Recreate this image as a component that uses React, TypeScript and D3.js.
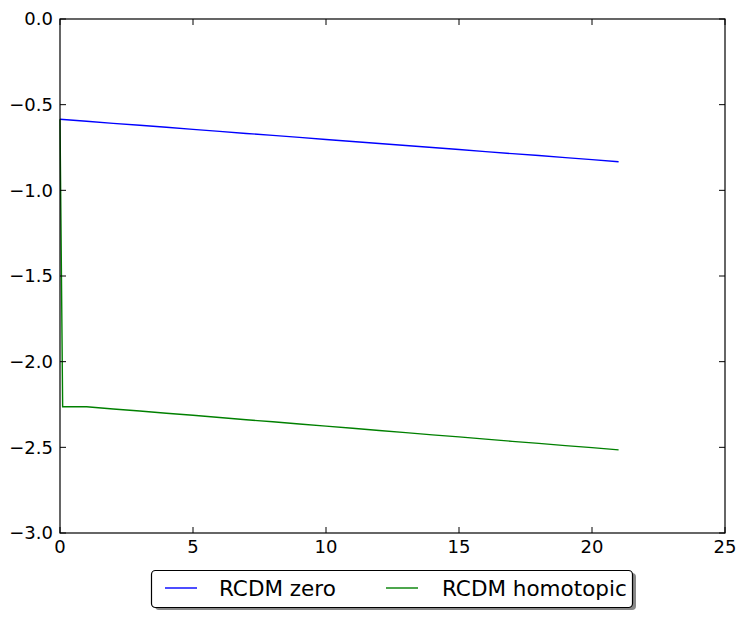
import React from "react";
import * as d3 from "d3";

const xZero = [0, 1, 2, 3, 4, 5, 6, 7, 8, 9, 10, 11, 12, 13, 14, 15, 16, 17, 18, 19, 20, 21];
const yZero = [-0.585, -0.597, -0.609, -0.62, -0.632, -0.644, -0.656, -0.668, -0.679, -0.691, -0.703, -0.715, -0.727, -0.738, -0.75, -0.762, -0.774, -0.786, -0.797, -0.809, -0.821, -0.833];
const xHomo = [0, 0.1, 1, 2, 3, 4, 5, 6, 7, 8, 9, 10, 11, 12, 13, 14, 15, 16, 17, 18, 19, 20, 21];
const yHomo = [-0.585, -2.263, -2.263, -2.276, -2.288, -2.301, -2.313, -2.326, -2.339, -2.351, -2.364, -2.376, -2.389, -2.402, -2.414, -2.427, -2.439, -2.452, -2.465, -2.477, -2.49, -2.502, -2.515];
const xTicks = [0, 5, 10, 15, 20, 25];
const yTicks = [0, -0.5, -1, -1.5, -2, -2.5, -3];
const seriesNames = ["RCDM zero", "RCDM homotopic"];
const seriesColors = ["#0000ff", "#008000"];

const W = 747, H = 618;
const L = 60, R = 725, T = 19, B = 533;

export default function App() {
  const x = d3.scaleLinear().domain([0, 25]).range([L, R]);
  const y = d3.scaleLinear().domain([-3, 0]).range([B, T]);
  const line = d3.line<[number, number]>().x(d => x(d[0])).y(d => y(d[1]));
  const s1 = xZero.map((v, i) => [v, yZero[i]] as [number, number]);
  const s2 = xHomo.map((v, i) => [v, yHomo[i]] as [number, number]);
  const fmtY = (v: number) => (v < 0 ? "\u2212" : "") + Math.abs(v).toFixed(1);
  const font = "DejaVu Sans, sans-serif";
  const tl = 6;
  return (
    <svg width={W} height={H} style={{ position: "absolute", left: 0, top: 0 }} fontFamily={font}>
      <rect x={0} y={0} width={W} height={H} fill="#fff" />
      <path d={line(s1) || ""} fill="none" stroke={seriesColors[0]} strokeWidth={1.4} />
      <path d={line(s2) || ""} fill="none" stroke={seriesColors[1]} strokeWidth={1.4} />
      {xTicks.map(t => (
        <g key={"x" + t}>
          <line x1={x(t)} x2={x(t)} y1={B} y2={B - tl} stroke="#000" strokeWidth={1} />
          <line x1={x(t)} x2={x(t)} y1={T} y2={T + tl} stroke="#000" strokeWidth={1} />
          <text x={x(t)} y={553} textAnchor="middle" fontSize={18}>{t}</text>
        </g>
      ))}
      {yTicks.map(t => (
        <g key={"y" + t}>
          <line x1={L} x2={L + tl} y1={y(t)} y2={y(t)} stroke="#000" strokeWidth={1} />
          <line x1={R} x2={R - tl} y1={y(t)} y2={y(t)} stroke="#000" strokeWidth={1} />
          <text x={53} y={y(t)} dy="0.36em" textAnchor="end" fontSize={18}>{fmtY(t)}</text>
        </g>
      ))}
      <rect x={L} y={T} width={R - L} height={B - T} fill="none" stroke="#000" strokeWidth={1.2} />
      <g>
        <rect x={155} y={573} width={481} height={37} rx={4} fill="#888" />
        <rect x={151.5} y={570.5} width={481} height={37} rx={4} fill="#fff" stroke="#000" strokeWidth={1.2} />
        <line x1={165} x2={197} y1={588} y2={588} stroke={seriesColors[0]} strokeWidth={1.4} />
        <text x={219} y={596} fontSize={21.5}>{seriesNames[0]}</text>
        <line x1={386} x2={418} y1={588} y2={588} stroke={seriesColors[1]} strokeWidth={1.4} />
        <text x={442} y={596} fontSize={21.5}>{seriesNames[1]}</text>
      </g>
    </svg>
  );
}
